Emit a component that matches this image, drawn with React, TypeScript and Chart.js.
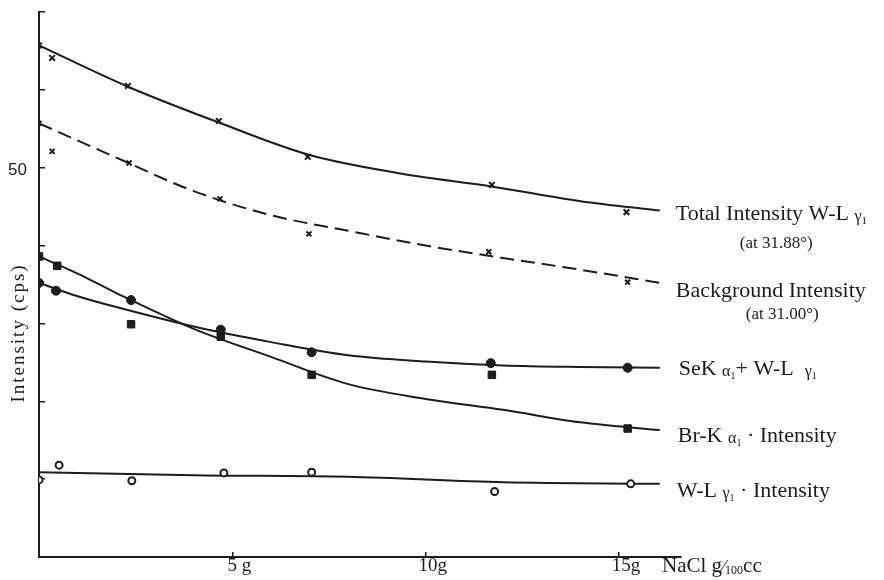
import { useEffect, useRef } from 'react';
import { Chart, registerables } from 'chart.js';

Chart.register(...registerables);

// ---- data (NaCl g/100cc vs intensity, cps) ----
// measured points
const totalX = [0, 0.34, 2.3, 4.65, 6.95, 11.71, 15.19];
const totalY = [65.7, 64.1, 60.5, 56.0, 51.4, 47.8, 44.3];
const bgX = [0, 0.34, 2.33, 4.68, 6.98, 11.63, 15.22];
const bgY = [55.7, 52.1, 50.6, 46.0, 41.5, 39.2, 35.3];
const seX = [0, 0.44, 2.38, 4.7, 7.05, 11.68, 15.22];
const seY = [35.2, 34.2, 33.0, 29.2, 26.3, 24.9, 24.3];
const brX = [0, 0.47, 2.38, 4.7, 7.05, 11.71, 15.22];
const brY = [38.6, 37.4, 29.9, 28.3, 23.4, 23.4, 16.5];
const wlX = [0, 0.52, 2.4, 4.78, 7.05, 11.78, 15.3];
const wlY = [9.9, 11.8, 9.8, 10.8, 10.9, 8.4, 9.4];

// drawn (smoothed) curves
const totalCurveX = [0, 2.3, 4.65, 6.95, 9.3, 11.7, 14, 16.05];
const totalCurveY = [65.7, 60.4, 55.8, 51.7, 49.3, 47.6, 45.7, 44.5];
const bgCurveX = [0, 2, 4, 6, 8, 10, 12, 14, 16.05];
const bgCurveY = [55.7, 51.3, 47.0, 43.9, 41.9, 40.0, 38.4, 36.9, 35.2];
const seCurveX = [0, 1, 2, 4, 6, 8, 10, 12, 14, 16.05];
const seCurveY = [35.2, 33.5, 32.1, 29.6, 27.6, 25.9, 25.1, 24.6, 24.4, 24.3];
const brCurveX = [0, 1, 2, 4, 6, 8, 10, 12, 14, 16.05];
const brCurveY = [38.6, 36.4, 33.9, 29.3, 25.7, 22.2, 20.3, 18.9, 17.3, 16.3];
const wlCurveX = [0, 4, 8, 12, 16.05];
const wlCurveY = [10.9, 10.5, 10.3, 9.6, 9.4];

const xTicks = [5, 10, 15];
const xTickLabels = ['5 g', '10g', '15g'];
const yLabeledTick = 50;

const INK = '#1c1c1c';
const SERIF = 'Liberation Serif';

type Seg = { t: string; size: number; dy?: number };
type Label = { value: number; dx: number; dy: number; segs: Seg[] };

// right-hand series labels (anchored to the y value of the line end)
const seriesLabels: Label[] = [
  { value: 44.5, dx: 16, dy: 9, segs: [{ t: 'Total Intensity W-L ', size: 22 }, { t: 'γ', size: 16, dy: 1 }, { t: '1', size: 11, dy: 4 }] },
  { value: 44.5, dx: 80, dy: 37, segs: [{ t: '(at 31.88°)', size: 17 }] },
  { value: 35.2, dx: 16, dy: 14, segs: [{ t: 'Background Intensity', size: 22 }] },
  { value: 35.2, dx: 86, dy: 36, segs: [{ t: '(at 31.00°)', size: 17 }] },
  { value: 24.3, dx: 19, dy: 7, segs: [{ t: 'SeK ', size: 22 }, { t: 'α', size: 16, dy: 1 }, { t: '1', size: 10, dy: 4 }, { t: '+ W-L  ', size: 22 }, { t: 'γ', size: 16, dy: 1 }, { t: '1', size: 10, dy: 4 }] },
  { value: 16.3, dx: 18, dy: 12, segs: [{ t: 'Br-K ', size: 22 }, { t: 'α', size: 16, dy: 1 }, { t: '1', size: 10, dy: 4 }, { t: ' · Intensity', size: 22 }] },
  { value: 9.4, dx: 17, dy: 13, segs: [{ t: 'W-L ', size: 22 }, { t: 'γ', size: 16, dy: 1 }, { t: '1', size: 10, dy: 4 }, { t: ' · Intensity', size: 22 }] },
];

function drawSegs(ctx: CanvasRenderingContext2D, x: number, y: number, segs: Seg[]) {
  let cx = x;
  for (const s of segs) {
    ctx.font = `${s.size}px "${SERIF}"`;
    ctx.fillText(s.t, cx, y + (s.dy || 0));
    cx += ctx.measureText(s.t).width;
  }
}

const textPlugin = {
  id: 'textPlugin',
  afterDraw(chart: any) {
    const ctx: CanvasRenderingContext2D = chart.ctx;
    const xs = chart.scales.x;
    const ys = chart.scales.y;
    ctx.save();
    ctx.fillStyle = INK;
    ctx.textAlign = 'left';
    ctx.textBaseline = 'alphabetic';
    const endX = xs.getPixelForValue(16.05);
    for (const l of seriesLabels) {
      drawSegs(ctx, endX + l.dx, ys.getPixelForValue(l.value) + l.dy, l.segs);
    }
    // x-axis title
    const ax = chart.chartArea.right - 19;
    const by = chart.chartArea.bottom + 15;
    drawSegs(ctx, ax, by, [
      { t: 'NaCl g', size: 21 },
      { t: '⁄', size: 18, dy: 1 },
      { t: '100', size: 12, dy: 2 },
      { t: 'cc', size: 21 },
    ]);
    // y-axis title
    ctx.translate(19, 333);
    ctx.rotate(-Math.PI / 2);
    ctx.textAlign = 'center';
    ctx.textBaseline = 'middle';
    (ctx as any).letterSpacing = '2px';
    ctx.font = `19px "${SERIF}"`;
    ctx.fillText('Intensity (cps)', 0, 0);
    ctx.restore();
  },
};

function pts(xs: number[], ys: number[]) {
  return xs.map((x, i) => ({ x, y: ys[i] }));
}

export default function App() {
  const ref = useRef<HTMLCanvasElement | null>(null);
  useEffect(() => {
    document.body.style.margin = '0';
    if (!ref.current) return;
    const markerBase = { showLine: false, borderColor: INK, backgroundColor: INK };
    const curveBase = {
      showLine: true,
      pointRadius: 0,
      borderColor: INK,
      borderWidth: 2,
      cubicInterpolationMode: 'monotone' as const,
      fill: false,
    };
    const chart = new Chart(ref.current, {
      type: 'scatter',
      data: {
        datasets: [
          { ...markerBase, label: 'Total', data: pts(totalX, totalY), pointStyle: 'crossRot', pointRadius: 4, borderWidth: 2 },
          { ...markerBase, label: 'Background', data: pts(bgX, bgY), pointStyle: 'crossRot', pointRadius: 3.5, borderWidth: 2 },
          { ...markerBase, label: 'SeK', data: pts(seX, seY), pointStyle: 'circle', pointRadius: 4.5, borderWidth: 1 },
          { ...markerBase, label: 'BrK', data: pts(brX, brY), pointStyle: 'rect', pointRadius: 5.3, borderWidth: 1 },
          { ...markerBase, label: 'WL', data: pts(wlX, wlY), pointStyle: 'circle', pointRadius: 3.5, borderWidth: 2, backgroundColor: '#ffffff' },
          { ...curveBase, label: 'Total curve', data: pts(totalCurveX, totalCurveY) },
          { ...curveBase, label: 'Background curve', data: pts(bgCurveX, bgCurveY), borderDash: [14, 7] },
          { ...curveBase, label: 'SeK curve', data: pts(seCurveX, seCurveY) },
          { ...curveBase, label: 'BrK curve', data: pts(brCurveX, brCurveY) },
          { ...curveBase, label: 'WL curve', data: pts(wlCurveX, wlCurveY) },
        ] as any,
      },
      options: {
        animation: false,
        responsive: false,
        devicePixelRatio: 1,
        layout: { padding: { left: 0, right: 203, top: 12, bottom: 0 } },
        plugins: { legend: { display: false }, tooltip: { enabled: false } },
        scales: {
          x: {
            type: 'linear',
            min: 0,
            max: 16.6,
            afterFit: (s: any) => { s.height = 23; s.paddingLeft = 0; s.paddingRight = 0; },
            afterBuildTicks: (s: any) => { s.ticks = xTicks.map((v) => ({ value: v })); },
            ticks: {
              autoSkip: false,
              maxRotation: 0,
              padding: 3,
              labelOffset: 7,
              color: INK,
              font: { family: SERIF, size: 19 },
              callback: (v: any) => {
                const i = xTicks.indexOf(Number(v));
                return i >= 0 ? xTickLabels[i] : '';
              },
            },
            grid: { drawOnChartArea: false, drawTicks: true, tickLength: -5, color: INK, lineWidth: 1.5 },
            border: { display: true, color: INK, width: 2 },
          },
          y: {
            type: 'linear',
            min: 0,
            max: 70,
            afterFit: (s: any) => { s.width = 39; s.paddingTop = 0; s.paddingBottom = 0; },
            ticks: {
              stepSize: 10,
              padding: 18,
              labelOffset: 3,
              color: INK,
              font: { family: 'Liberation Sans', size: 17 },
              callback: (v: any) => (Number(v) === yLabeledTick ? String(yLabeledTick) : ''),
            },
            grid: { drawOnChartArea: false, drawTicks: true, tickLength: -6, color: INK, lineWidth: 1.5 },
            border: { display: true, color: INK, width: 2 },
          },
        },
      } as any,
      plugins: [textPlugin],
    });
    return () => chart.destroy();
  }, []);
  return (
    <div style={{ position: 'fixed', left: 0, top: 0, width: 884, height: 580, background: '#fff' }}>
      <canvas ref={ref} width={884} height={580} style={{ display: 'block' }} />
    </div>
  );
}
